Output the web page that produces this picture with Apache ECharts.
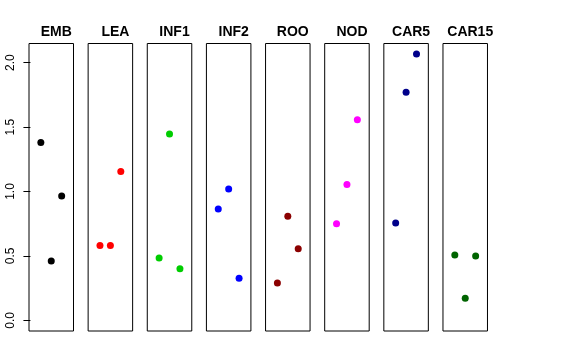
<!DOCTYPE html>
<html>
<head>
<meta charset="utf-8">
<script src="https://cdn.jsdelivr.net/npm/echarts@6/dist/echarts.min.js"></script>
<style>html,body{margin:0;padding:0;background:#fff}#c{width:576px;height:360px}</style>
</head>
<body>
<div id="c"></div>
<script>
// Panel names and colours
var panels = ['EMB','LEA','INF1','INF2','ROO','NOD','CAR5','CAR15'];
var colors = ['#000000','#FF0000','#00CD00','#0000FF','#8B0000','#FF00FF','#00008B','#006400'];
// Replicate position (1..3) and measured value of each point, per panel
var repEMB = [1,3,2];   var valEMB = [1.381,0.965,0.460];
var repLEA = [1,2,3];   var valLEA = [0.580,0.580,1.156];
var repINF1 = [2,1,3];  var valINF1 = [1.446,0.484,0.401];
var repINF2 = [2,1,3];  var valINF2 = [1.019,0.864,0.326];
var repROO = [1,2,3];   var valROO = [0.290,0.807,0.556];
var repNOD = [3,2,1];   var valNOD = [1.557,1.055,0.750];
var repCAR5 = [3,2,1];  var valCAR5 = [2.067,1.770,0.755];
var repCAR15 = [1,3,2]; var valCAR15 = [0.507,0.499,0.171];
var yTicks = [0, 0.5, 1, 1.5, 2];
var yTickLabels = ['0.0','0.5','1.0','1.5','2.0'];

(function () {
var reps = [repEMB,repLEA,repINF1,repINF2,repROO,repNOD,repCAR5,repCAR15];
var vals = [valEMB,valLEA,valINF1,valINF2,valROO,valNOD,valCAR5,valCAR15];

var FONT = '"Liberation Sans", Arial, Helvetica, sans-serif';
var grids = [], xAxes = [], yAxes = [], series = [], titles = [];
var left0 = 29, step = 59.14, w = 44.5, gTop = 43.5, h = 287.5;
for (var i = 0; i < panels.length; i++) {
  var L = left0 + i * step;
  grids.push({left: L, top: gTop, width: w, height: h, show: true, borderColor: '#000', borderWidth: 1, backgroundColor: 'transparent'});
  xAxes.push({gridIndex: i, type: 'value', min: -0.137, max: 4.137, show: false});
  yAxes.push({
    gridIndex: i, type: 'value', min: -0.083, max: 2.149,
    splitLine: {show: false},
    axisLine: {show: false},
    axisTick: {show: i === 0, length: 7, customValues: yTicks, lineStyle: {color: '#000'}},
    axisLabel: {
      show: i === 0, rotate: 90, margin: 12, color: '#000', fontSize: 12, fontFamily: FONT,
      customValues: yTicks,
      formatter: function (v) { var k = yTicks.indexOf(v); return k >= 0 ? yTickLabels[k] : ''; }
    }
  });
  var d = [];
  for (var j = 0; j < vals[i].length; j++) d.push([reps[i][j], vals[i][j]]);
  series.push({type: 'scatter', xAxisIndex: i, yAxisIndex: i, data: d, symbol: 'circle', symbolSize: 7,
    itemStyle: {color: colors[i], opacity: 1}, silent: true, animation: false});
  titles.push({text: panels[i], left: L + w / 2, textAlign: 'center', top: 20,
    textStyle: {fontSize: 14, fontWeight: 'bold', color: '#000', fontFamily: FONT}});
}
var chart = echarts.init(document.getElementById('c'), null, {renderer: 'canvas'});
chart.setOption({animation: false, title: titles, grid: grids, xAxis: xAxes, yAxis: yAxes, series: series});
})();
</script>
</body>
</html>
